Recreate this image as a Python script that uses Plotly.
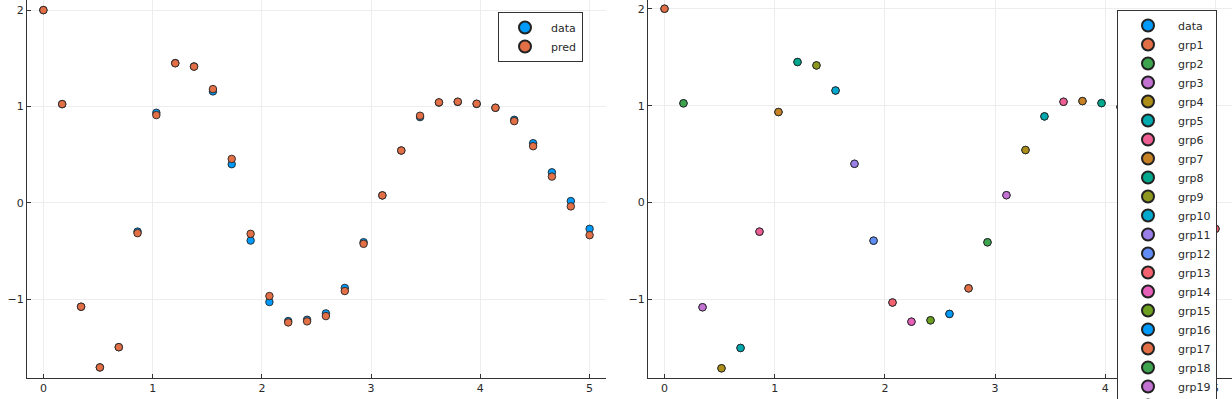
import numpy as np
import plotly.graph_objects as go

# ---- data ----
x_vals = [0.0, 0.172, 0.345, 0.517, 0.690, 0.862, 1.034, 1.207, 1.379, 1.552,
          1.724, 1.897, 2.069, 2.241, 2.414, 2.586, 2.759, 2.931, 3.103, 3.276,
          3.448, 3.621, 3.793, 3.966, 4.138, 4.310, 4.483, 4.655, 4.828, 5.0]
data_vals = [2.0, 1.024, -1.08, -1.71, -1.50, -0.30, 0.934, 1.450, 1.415, 1.156,
             0.400, -0.393, -1.031, -1.229, -1.215, -1.149, -0.885, -0.410, 0.076, 0.542,
             0.889, 1.040, 1.047, 1.026, 0.986, 0.861, 0.618, 0.316, 0.017, -0.271]
pred_vals = [2.0, 1.024, -1.08, -1.71, -1.50, -0.316, 0.910, 1.448, 1.413, 1.180,
             0.455, -0.323, -0.969, -1.243, -1.232, -1.177, -0.917, -0.427, 0.076, 0.542,
             0.903, 1.042, 1.049, 1.028, 0.986, 0.847, 0.587, 0.271, -0.038, -0.337]
group_names = ["grp%d" % (i + 1) for i in range(30)]
point_groups = ["grp%d" % (i + 1) for i in range(28)] + ["grp30", "grp29"]
x_ticks = [0, 1, 2, 3, 4, 5]
y_ticks = [-1, 0, 1, 2]

palette = ["#009AFA", "#E36F47", "#3EA44E", "#C371D2", "#AC8E18", "#00AAAE",
           "#ED5E93", "#C68225", "#00A98D", "#8E971E", "#00A9CD", "#9B7FE9",
           "#618DF6", "#F4616F", "#E65FB9", "#6D9F21"]

FONT = "DejaVu Sans"
TXT = "#2a2a2a"
MS = 7.5
mline = dict(color="#222222", width=0.9)

fig = go.Figure()

# left subplot
fig.add_trace(go.Scatter(x=x_vals, y=data_vals, mode="markers", name="data",
                         marker=dict(color=palette[0], size=MS, line=mline),
                         xaxis="x", yaxis="y", legend="legend"))
fig.add_trace(go.Scatter(x=x_vals, y=pred_vals, mode="markers", name="pred",
                         marker=dict(color=palette[1], size=MS, line=mline),
                         xaxis="x", yaxis="y", legend="legend"))

# right subplot
fig.add_trace(go.Scatter(x=x_vals, y=data_vals, mode="markers", name="data",
                         marker=dict(color=palette[0], size=MS, line=mline),
                         xaxis="x2", yaxis="y2", legend="legend2"))
for gi, g in enumerate(group_names):
    gx = [x for x, pg in zip(x_vals, point_groups) if pg == g]
    gy = [y for y, pg in zip(data_vals, point_groups) if pg == g]
    fig.add_trace(go.Scatter(x=gx, y=gy, mode="markers", name=g,
                             marker=dict(color=palette[(gi + 1) % 16], size=MS, line=mline),
                             xaxis="x2", yaxis="y2", legend="legend2"))

ax_common = dict(showline=True, linecolor="#333333", linewidth=1, mirror=False,
                 showgrid=True, gridcolor="#ededed", gridwidth=1, zeroline=False,
                 ticks="inside", ticklen=4, tickcolor="#333333",
                 tickfont=dict(family=FONT, size=11, color=TXT))

# The browser window shows the top 1232x399 px; the page below it is cut off,
# so the long legend can run past the bottom edge as in the reference.
W, H_VIEW = 1232, 399
PLOT_H = 378
H = 720
MB = H - PLOT_H

legend_common = dict(bgcolor="white", bordercolor="#333333", borderwidth=1,
                     font=dict(family=FONT, size=11, color=TXT),
                     itemsizing="constant", xanchor="left", yanchor="top",
                     tracegroupgap=0)

fig.update_layout(
    width=W, height=H,
    margin=dict(l=0, r=0, t=0, b=MB, pad=0),
    paper_bgcolor="white", plot_bgcolor="white",
    xaxis=dict(domain=[27 / W, 606 / W], range=[-0.15, 5.15], tickvals=x_ticks,
               anchor="y", **ax_common),
    yaxis=dict(domain=[0, 1], range=[-1.82, 2.105], tickvals=y_ticks,
               anchor="x", **ax_common),
    xaxis2=dict(domain=[648 / W, 1.0], range=[-0.15, 5.15], tickvals=x_ticks,
                anchor="y2", **ax_common),
    yaxis2=dict(domain=[0, 1], range=[-1.81, 2.09], tickvals=y_ticks,
                anchor="x2", **ax_common),
    legend=dict(x=498 / W, y=1 - 12 / PLOT_H, itemwidth=42, **legend_common),
    legend2=dict(x=1117 / W, y=1 - 10 / PLOT_H, itemwidth=50, maxheight=1000,
                 **legend_common),
    showlegend=True,
)

fig.write_html("out.html", config={"displayModeBar": False},
               post_script="document.body.style.margin='0';document.body.style.overflow='hidden';")
